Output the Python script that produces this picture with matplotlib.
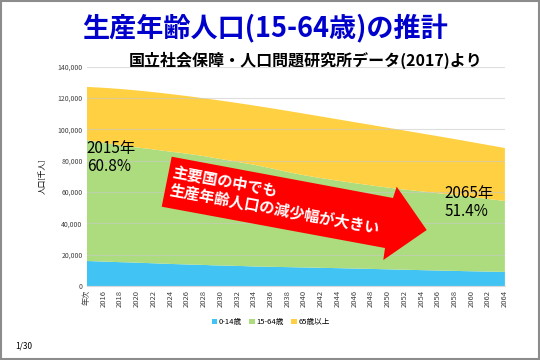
import matplotlib
matplotlib.use("Agg")
import matplotlib.pyplot as plt
from matplotlib.patches import Polygon, Rectangle

plt.rcParams['font.family'] = ['Noto Sans CJK JP', 'DejaVu Sans']

# 2015-2065 (thousand people)
years = list(range(2015, 2066))
age_0_14 = [15945, 15780, 15592, 15408, 15207, 15075, 14886, 14688, 14484, 14264,
            14073, 13905, 13733, 13579, 13448, 13212, 13084, 12961, 12811, 12654,
            12457, 12351, 12249, 12146, 12042, 11936, 11826, 11714, 11601, 11491,
            11384, 11262, 11139, 11015, 10891, 10767, 10636, 10506, 10377, 10249,
            10123, 9999, 9876, 9754, 9632, 9508, 9401, 9295, 9188, 9082, 8975]
age_15_64 = [77282, 76482, 75782, 75158, 74622, 74058, 73551, 73129, 72683, 72181,
             71700, 71230, 70717, 70147, 69507, 68753, 67986, 67216, 66433, 65673,
             64942, 63970, 62921, 61841, 60783, 59777, 58885, 58065, 57302, 56568,
             55845, 55197, 54563, 53942, 53338, 52750, 52192, 51667, 51163, 50704,
             50276, 49836, 49365, 48876, 48402, 47929, 47405, 46885, 46353, 45825, 45291]
age_65 = [33868, 34576, 35158, 35611, 35944, 36192, 36399, 36493, 36584, 36716,
          36771, 36768, 36790, 36829, 36895, 37160, 37310, 37439, 37589, 37706,
          37817, 38062, 38365, 38687, 38976, 39206, 39317, 39352, 39326, 39267,
          39192, 39059, 38914, 38759, 38590, 38406, 38201, 37962, 37700, 37389,
          37042, 36699, 36381, 36074, 35747, 35403, 35085, 34760, 34447, 34127, 33810]
series_names = ['0-14歳', '15-64歳', '65歳以上']
colors = ['#41c3f3', '#acdc7e', '#ffd042']
x_labels = ['年次'] + [str(y) for y in range(2016, 2065, 2)]

fig = plt.figure(figsize=(5.4, 3.6), dpi=100)
ax = fig.add_axes([0.1606, 0.2056, 0.7744, 0.6091])

xs = list(range(len(years)))
ax.stackplot(xs, age_0_14, age_15_64, age_65, colors=colors, labels=series_names, zorder=1)
ax.set_xlim(0, len(years) - 1)
ax.set_ylim(0, 140000)
ax.set_yticks(range(0, 140001, 20000))
ax.set_yticklabels([f'{v:,}' for v in range(0, 140001, 20000)], fontsize=5, color='#404040')
ax.set_xticks(xs[::2])
ax.set_xticklabels(x_labels, rotation=90, fontsize=5.5, color='#404040')
ax.tick_params(length=0, pad=3)
ax.grid(axis='y', color='#c8c8c8', alpha=0.6, lw=0.8, zorder=2)
ax.set_axisbelow(False)
for s in ['top', 'right', 'left']:
    ax.spines[s].set_visible(False)
ax.spines['bottom'].set_color('#d9d9d9')
ax.set_ylabel('人口[千人]', fontsize=5.5, labelpad=8)

ax.legend(loc='upper center', bbox_to_anchor=(0.44, -0.115), ncol=3, frameon=False,
          fontsize=5.5, handlelength=0.7, handleheight=0.7, columnspacing=1.0, handletextpad=0.2)

ax.text(0, 93000, '2015年\n60.8%', fontsize=11, va='top', ha='left', linespacing=1.05)
ax.text(42.8, 64500, '2065年\n51.4%', fontsize=11, va='top', ha='left', linespacing=1.05)

# red arrow (pixel coords -> figure fraction)
pts = [(171.7, 156.7), (393, 198), (396.7, 186.7), (426.7, 230), (383.3, 260), (385, 248), (161.7, 206.7)]
arrow = Polygon([(px / 540, 1 - py / 360) for px, py in pts], closed=True,
                transform=fig.transFigure, facecolor='#ff0000', edgecolor='none', zorder=5)
fig.patches.append(arrow)
fig.text(174 / 540, 1 - 164 / 360, '主要国の中でも\n生産年齢人口の減少幅が大きい', color='white',
         fontsize=11, fontweight='bold', rotation=-10.5, rotation_mode='anchor',
         ha='left', va='top', linespacing=1.1, zorder=6)

fig.text(0.49, 0.922, '生産年齢人口(15-64歳)の推計', color='#0000cc', fontsize=19.5,
         fontweight='bold', ha='center', va='center')
fig.text(0.893, 0.833, '国立社会保障・人口問題研究所データ(2017)より', fontsize=11.5,
         fontweight='bold', ha='right', va='center')
fig.text(0.028, 0.04, '1/30', fontsize=6, ha='left', va='center')

fig.patches.append(Rectangle((0.002, 0.003), 0.996, 0.994, transform=fig.transFigure,
                             fill=False, edgecolor='#8c8c8c', lw=1.5))

fig.savefig('out.png', dpi=100)
